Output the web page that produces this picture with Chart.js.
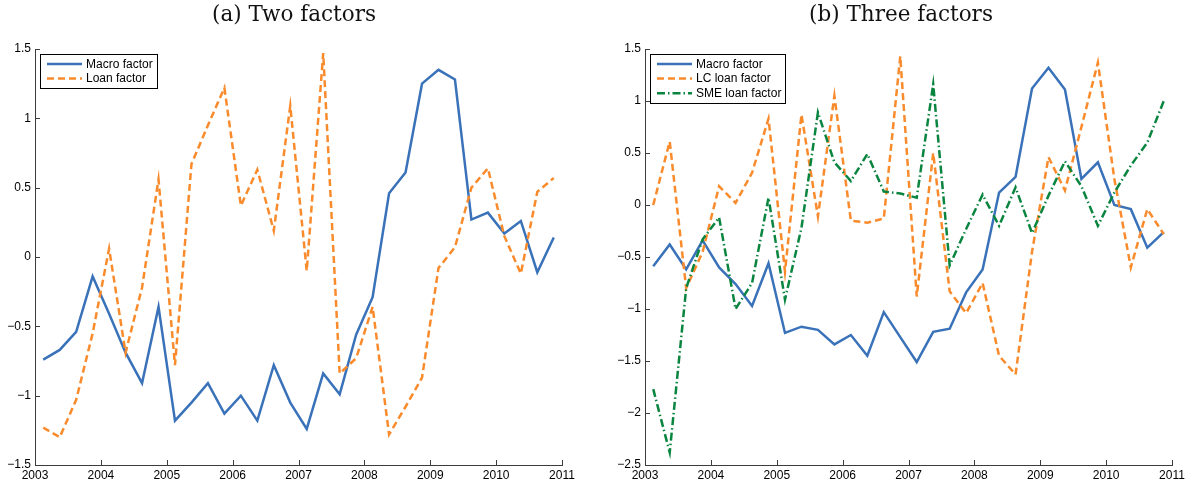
<!DOCTYPE html>
<html>
<head>
<meta charset="utf-8">
<script src="https://cdn.jsdelivr.net/npm/chart.js@4.4.1/dist/chart.umd.min.js"></script>
<style>
  html, body { margin: 0; padding: 0; background: #fff; }
  body { width: 1192px; height: 488px; overflow: hidden; position: relative; }
  .panel { position: absolute; top: 0; width: 596px; height: 488px; }
  .title {
    position: absolute; top: 1px; width: 400px; text-align: center;
    font-family: "DejaVu Serif", "Liberation Serif", serif; font-size: 21.5px;
    line-height: 26px; color: #111; white-space: nowrap;
  }
</style>
</head>
<body>
<div class="panel" style="left:0"><canvas id="twoFactors" width="596" height="488"></canvas></div>
<div class="panel" style="left:596px"><canvas id="threeFactors" width="596" height="488"></canvas></div>
<div class="title" style="left:94px">(a) Two factors</div>
<div class="title" style="left:701px">(b) Three factors</div>

<script>
// Quarterly observations, 2003Q1 – 2010Q4
const quarters = [
  '2003Q1','2003Q2','2003Q3','2003Q4','2004Q1','2004Q2','2004Q3','2004Q4',
  '2005Q1','2005Q2','2005Q3','2005Q4','2006Q1','2006Q2','2006Q3','2006Q4',
  '2007Q1','2007Q2','2007Q3','2007Q4','2008Q1','2008Q2','2008Q3','2008Q4',
  '2009Q1','2009Q2','2009Q3','2009Q4','2010Q1','2010Q2','2010Q3','2010Q4'
];

// (a) two-factor model
const macroTwo = [-0.74,-0.67,-0.54,-0.14,-0.41,-0.69,-0.91,-0.36,
                  -1.18,-1.05,-0.91,-1.13,-1.00,-1.18,-0.78,-1.05,
                  -1.24,-0.84,-0.99,-0.56,-0.29, 0.46, 0.61, 1.25,
                   1.35, 1.28, 0.27, 0.32, 0.17, 0.26,-0.11, 0.14];
const loanTwo  = [-1.23,-1.30,-1.03,-0.55, 0.06,-0.69,-0.22, 0.56,
                  -0.78, 0.67, 0.95, 1.22, 0.37, 0.63, 0.19, 1.09,
                  -0.10, 1.47,-0.84,-0.73,-0.36,-1.28,-1.08,-0.87,
                  -0.08, 0.07, 0.50, 0.64, 0.15,-0.12, 0.47, 0.57];

// (b) three-factor model
const macroThree = [-0.59,-0.38,-0.62,-0.34,-0.60,-0.76,-0.97,-0.56,
                    -1.23,-1.17,-1.20,-1.34,-1.25,-1.45,-1.03,-1.27,
                    -1.51,-1.22,-1.19,-0.84,-0.62, 0.12, 0.27, 1.12,
                     1.32, 1.11, 0.25, 0.41, 0.00,-0.04,-0.41,-0.26];
const lcLoan     = [ 0.00, 0.61,-0.80,-0.45, 0.18, 0.02, 0.31, 0.83,
                    -0.64, 0.87,-0.11, 1.05,-0.15,-0.17,-0.13, 1.43,
                    -0.88, 0.50,-0.83,-1.04,-0.75,-1.45,-1.63,-0.45,
                     0.46, 0.14, 0.75, 1.37, 0.25,-0.60,-0.04,-0.28];
const smeLoan    = [-1.77,-2.38,-0.80,-0.33,-0.12,-1.00,-0.75, 0.07,
                    -0.91,-0.22, 0.89, 0.41, 0.23, 0.49, 0.13, 0.11,
                     0.07, 1.16,-0.58,-0.23, 0.10,-0.20, 0.17,-0.27,
                     0.09, 0.42, 0.18,-0.20, 0.12, 0.38, 0.60, 1.00];

const yearTicks = [2003, 2011];          // x-axis range, one tick per year
const yRangeTwo = [-1.5, 1.5];
const yRangeThree = [-2.5, 1.5];

const BLUE = '#3a72b9', ORANGE = '#f98b2c', GREEN = '#0a8540';
const AXIS = '#3c3c3c';
const FONT = '"Liberation Sans", Arial, Helvetica, sans-serif';

// mid-quarter position on a decimal-year axis
const quarterPos = q => Number(q.slice(0, 4)) + (Number(q[5]) - 0.5) / 4;
const series = vals => quarters.map((q, i) => ({ x: quarterPos(q), y: vals[i] }));
const minus = v => String(v).replace('-', '\u2212');

// tick marks pointing into the plot, on the left and bottom axes only
const inwardTicks = {
  id: 'inwardTicks',
  afterDatasetsDraw(chart) {
    const { ctx, chartArea: a, scales: { x, y } } = chart;
    ctx.save();
    ctx.strokeStyle = AXIS; ctx.lineWidth = 1;
    ctx.beginPath();
    x.ticks.forEach(t => {
      const px = Math.round(x.getPixelForValue(t.value)) + 0.5;
      ctx.moveTo(px, a.bottom); ctx.lineTo(px, a.bottom - 5);
    });
    y.ticks.forEach(t => {
      const py = Math.round(y.getPixelForValue(t.value)) + 0.5;
      ctx.moveTo(a.left, py); ctx.lineTo(a.left + 5, py);
    });
    ctx.stroke();
    ctx.restore();
  }
};

// boxed legend in the upper-left corner of the plot
const boxLegend = {
  id: 'boxLegend',
  afterDraw(chart) {
    const { ctx, chartArea: a } = chart;
    const sets = chart.data.datasets;
    ctx.save();
    ctx.font = '12px ' + FONT;
    const left = a.left + 5, top = a.top + 5, rowH = 14.6;
    const textX = a.left + 51;
    const maxW = Math.max(...sets.map(d => ctx.measureText(d.label).width));
    const w = textX + maxW + 4 - left, h = rowH * sets.length + 5;
    ctx.fillStyle = '#fff';
    ctx.fillRect(left, top, w, h);
    ctx.strokeStyle = '#000'; ctx.lineWidth = 1;
    ctx.strokeRect(Math.round(left) + 0.5, Math.round(top) + 0.5, Math.round(w), Math.round(h));
    sets.forEach((d, i) => {
      const cy = top + 10 + i * rowH;
      ctx.beginPath();
      ctx.strokeStyle = d.borderColor; ctx.lineWidth = d.borderWidth;
      ctx.setLineDash(d.borderDash || []);
      ctx.moveTo(a.left + 12, cy); ctx.lineTo(a.left + 47, cy);
      ctx.stroke();
      ctx.setLineDash([]);
      ctx.fillStyle = '#000'; ctx.textBaseline = 'middle';
      ctx.fillText(d.label, textX, cy + 0.5);
    });
    ctx.restore();
  }
};

function makeChart(id, datasets, yRange, yWidth, rightPad) {
  return new Chart(document.getElementById(id), {
    type: 'line',
    data: { datasets },
    plugins: [inwardTicks, boxLegend],
    options: {
      responsive: false,
      animation: false,
      layout: { padding: { top: 49, right: rightPad, bottom: 0, left: 0 } },
      plugins: { legend: { display: false }, tooltip: { enabled: false } },
      elements: { point: { radius: 0 }, line: { tension: 0, borderCapStyle: 'butt' } },
      scales: {
        x: {
          type: 'linear', min: yearTicks[0], max: yearTicks[1],
          grid: { display: false, drawTicks: false },
          border: { display: true, color: AXIS, width: 1 },
          ticks: { stepSize: 1, color: '#000', padding: 3, maxRotation: 0,
                   font: { family: FONT, size: 12 }, callback: v => String(v) },
          afterFit: s => { s.height = 23; }
        },
        y: {
          min: yRange[0], max: yRange[1],
          grid: { display: false, drawTicks: false },
          border: { display: true, color: AXIS, width: 1 },
          ticks: { stepSize: 0.5, color: '#000', padding: 4,
                   font: { family: FONT, size: 12 }, callback: v => minus(v) },
          afterFit: s => { s.width = yWidth; }
        }
      }
    }
  });
}

makeChart('twoFactors', [
  { label: 'Macro factor', data: series(macroTwo), borderColor: BLUE, borderWidth: 2.5, order: 2 },
  { label: 'Loan factor', data: series(loanTwo), borderColor: ORANGE, borderWidth: 2.5, borderDash: [7, 4], order: 1 }
], yRangeTwo, 35, 34);

makeChart('threeFactors', [
  { label: 'Macro factor', data: series(macroThree), borderColor: BLUE, borderWidth: 2.5, order: 3 },
  { label: 'LC loan factor', data: series(lcLoan), borderColor: ORANGE, borderWidth: 2.5, borderDash: [7, 4], order: 2 },
  { label: 'SME loan factor', data: series(smeLoan), borderColor: GREEN, borderWidth: 2.5, borderDash: [8, 3, 1.5, 3], order: 1 }
], yRangeThree, 49, 20);
</script>
</body>
</html>
